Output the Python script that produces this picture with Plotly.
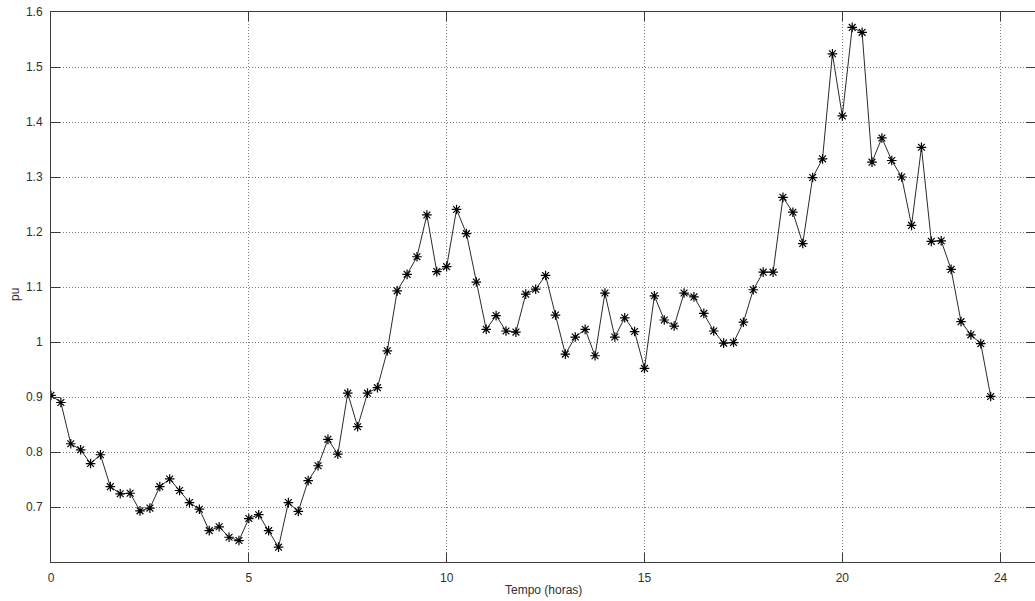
import plotly.graph_objects as go

# Time of day (hours), one sample every 15 minutes
hours = [
    0.00, 0.25, 0.50, 0.75, 1.00, 1.25, 1.50, 1.75, 2.00, 2.25, 2.50, 2.75,
    3.00, 3.25, 3.50, 3.75, 4.00, 4.25, 4.50, 4.75, 5.00, 5.25, 5.50, 5.75,
    6.00, 6.25, 6.50, 6.75, 7.00, 7.25, 7.50, 7.75, 8.00, 8.25, 8.50, 8.75,
    9.00, 9.25, 9.50, 9.75, 10.00, 10.25, 10.50, 10.75, 11.00, 11.25, 11.50, 11.75,
    12.00, 12.25, 12.50, 12.75, 13.00, 13.25, 13.50, 13.75, 14.00, 14.25, 14.50, 14.75,
    15.00, 15.25, 15.50, 15.75, 16.00, 16.25, 16.50, 16.75, 17.00, 17.25, 17.50, 17.75,
    18.00, 18.25, 18.50, 18.75, 19.00, 19.25, 19.50, 19.75, 20.00, 20.25, 20.50, 20.75,
    21.00, 21.25, 21.50, 21.75, 22.00, 22.25, 22.50, 22.75, 23.00, 23.25, 23.50, 23.75,
]

# Load profile in per-unit
load_pu = [
    0.903, 0.890, 0.815, 0.804, 0.779, 0.795, 0.737, 0.724, 0.725, 0.693, 0.698, 0.737,
    0.751, 0.730, 0.708, 0.696, 0.657, 0.664, 0.645, 0.639, 0.679, 0.686, 0.657, 0.627,
    0.708, 0.692, 0.748, 0.775, 0.823, 0.796, 0.907, 0.846, 0.907, 0.917, 0.984, 1.093,
    1.123, 1.155, 1.231, 1.128, 1.137, 1.241, 1.197, 1.109, 1.023, 1.048, 1.020, 1.018,
    1.087, 1.096, 1.121, 1.049, 0.978, 1.009, 1.023, 0.975, 1.089, 1.009, 1.044, 1.019,
    0.952, 1.084, 1.040, 1.029, 1.089, 1.082, 1.052, 1.020, 0.998, 0.999, 1.036, 1.095,
    1.127, 1.127, 1.263, 1.236, 1.179, 1.299, 1.333, 1.524, 1.411, 1.572, 1.563, 1.327,
    1.371, 1.330, 1.300, 1.212, 1.354, 1.183, 1.184, 1.132, 1.037, 1.013, 0.997, 0.901,
]

x_ticks = [0, 5, 10, 15, 20, 24]
y_ticks = [0.7, 0.8, 0.9, 1.0, 1.1, 1.2, 1.3, 1.4, 1.5, 1.6]
y_tick_text = ["0.7", "0.8", "0.9", "1", "1.1", "1.2", "1.3", "1.4", "1.5", "1.6"]

FONT = "Liberation Sans, Arial, sans-serif"
TEXT = "#303030"

fig = go.Figure(
    go.Scatter(
        x=hours,
        y=load_pu,
        mode="lines+markers",
        line=dict(color="#2a2a2a", width=1),
        marker=dict(symbol="asterisk-open", size=8, color="black",
                    line=dict(color="black", width=1.2)),
        showlegend=False,
    )
)

axis_common = dict(
    showline=True,
    linecolor="#3a3a3a",
    linewidth=1,
    mirror="ticks",
    ticks="inside",
    ticklen=9,
    tickwidth=1,
    tickcolor="#3a3a3a",
    showgrid=True,
    gridcolor="#7a7a7a",
    griddash="1px,2px",
    gridwidth=1,
    zeroline=False,
    ticklabelstandoff=5,
    tickfont=dict(family=FONT, size=12, color=TEXT),
)

fig.update_xaxes(
    range=[0, 24.87],
    tickvals=x_ticks,
    ticktext=[str(t) for t in x_ticks],
    **axis_common,
)
fig.update_yaxes(
    range=[0.6, 1.6],
    tickvals=y_ticks,
    ticktext=y_tick_text,
    **axis_common,
)

fig.add_annotation(
    text="Tempo (horas)", xref="paper", yref="paper", x=0.5, y=0,
    yshift=-28, showarrow=False, xanchor="center", yanchor="middle",
    font=dict(family=FONT, size=12, color=TEXT),
)
fig.add_annotation(
    text="pu", xref="paper", yref="paper", x=0, y=0.4855,
    xshift=-36, showarrow=False, xanchor="center", yanchor="middle",
    textangle=-90, font=dict(family=FONT, size=12, color=TEXT),
)

fig.update_layout(
    width=1035,
    height=601,
    margin=dict(l=51, r=0, t=12, b=39),
    paper_bgcolor="white",
    plot_bgcolor="white",
)

fig.write_html("out.html")
